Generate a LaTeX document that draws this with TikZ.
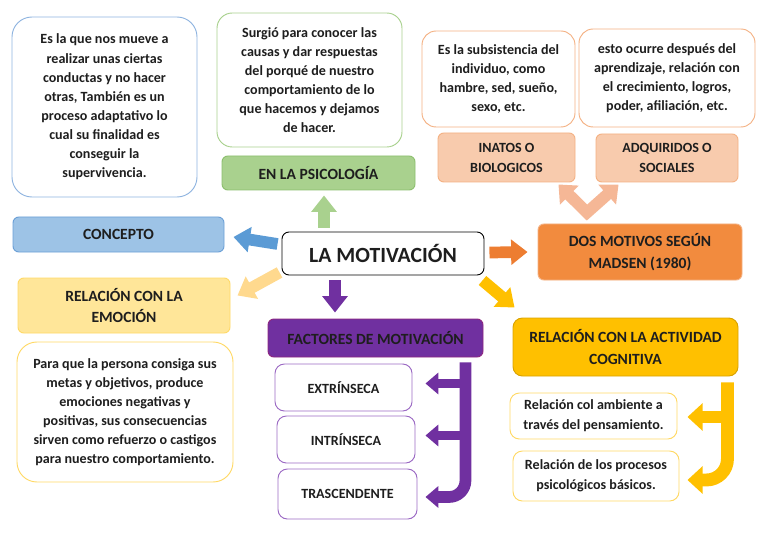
\documentclass[tikz,border=0pt]{standalone}
\usepackage{fontspec}
\setmainfont{Carlito}
\usetikzlibrary{arrows.meta, positioning, calc}

\definecolor{conBlue}{HTML}{8FB4E0}
\definecolor{conFill}{HTML}{9DC3E6}
\definecolor{conDraw}{HTML}{6A9FD6}
\definecolor{arrBlue}{HTML}{5B9BD5}
\definecolor{psiGreen}{HTML}{A9D18E}
\definecolor{psiDraw}{HTML}{8CBF6E}
\definecolor{peach}{HTML}{F4B183}
\definecolor{peachFill}{HTML}{F8CBAD}
\definecolor{vArr}{HTML}{F5B796}
\definecolor{dosFill}{HTML}{F28B3E}
\definecolor{arrOrange}{HTML}{ED7D31}
\definecolor{emoFill}{HTML}{FFE699}
\definecolor{emoDraw}{HTML}{FFD966}
\definecolor{arrCream}{HTML}{FFD98E}
\definecolor{gold}{HTML}{FFC000}
\definecolor{goldDraw}{HTML}{D9A300}
\definecolor{facPurple}{HTML}{7030A0}
\definecolor{facLight}{HTML}{9C6BC4}
\definecolor{txt}{HTML}{1E1E1E}

\begin{document}
\begin{tikzpicture}[
    x=0.03cm, y=-0.03cm,
    wh/.style 2 args={minimum width=#1*0.03cm, minimum height=#2*0.03cm},
    note/.style={rectangle, draw, line width=0.8pt, fill=white, align=center, inner sep=0pt,
        text=txt, font=\fontsize{12}{16.3}\selectfont\bfseries},
    head/.style={rectangle, draw, line width=0.8pt, rounded corners=5pt, align=center, inner sep=0pt,
        text=txt, font=\fontsize{13.3}{18.5}\selectfont\bfseries},
    small/.style={head, font=\fontsize{12}{17}\selectfont\bfseries},
    block/.style={line width=10pt, -{Triangle[width=21pt,length=14pt]}},
    brace/.style={line width=#1, rounded corners=14pt}
]
    \useasboundingbox (0,0) rectangle (768,543);

    % centre
    \node[head, wh={202}{43}, fill=white, draw=black, rounded corners=6pt,
        font=\fontsize{18.5}{22}\selectfont\bfseries] (mot) at (383,253.5) {LA MOTIVACIÓN};

    % concepto
    \node[note, wh={185}{180}, draw=conBlue, rounded corners=17pt] (conTxt) at (104.5,107)
        {Es la que nos mueve a\\ realizar unas ciertas\\ conductas y no hacer\\ otras, También es un\\
         proceso adaptativo lo\\ cual su finalidad es\\ conseguir la\\ supervivencia.};
    \node[head, wh={211}{35}, fill=conFill, draw=conDraw] (concepto) at (118.5,234.5) {CONCEPTO};

    % psicologia
    \node[note, wh={185}{134}, draw=psiGreen, rounded corners=13pt] (psiTxt) at (309.5,80)
        {Surgió para conocer las\\ causas y dar respuestas\\ del porqué de nuestro\\
         comportamiento de lo\\ que hacemos y dejamos\\ de hacer.};
    \node[head, wh={193}{34}, fill=psiGreen, draw=psiDraw] (psi) at (318.5,173) {EN LA PSICOLOGÍA};

    % dos motivos
    \node[note, wh={153}{96}, draw=peach, rounded corners=12pt] (inaTxt) at (498.5,79)
        {Es la subsistencia del\\ individuo, como\\ hambre, sed, sueño,\\ sexo, etc.};
    \node[note, wh={176}{98}, draw=peach, rounded corners=12pt] (adqTxt) at (667,78)
        {esto ocurre después del\\ aprendizaje, relación con\\ el crecimiento, logros,\\ poder, afiliación, etc.};
    \node[small, wh={137}{49}, fill=peachFill, draw=peach] (ina) at (506.5,157.5) {INATOS O\\ BIOLOGICOS};
    \node[small, wh={142}{48}, fill=peachFill, draw=peach] (adq) at (667,158) {ADQUIRIDOS O\\ SOCIALES};
    \node[head, wh={204}{56}, fill=dosFill, draw=peach] (dos) at (640,252) {DOS MOTIVOS SEGÚN\\ MADSEN (1980)};

    % emocion
    \node[head, wh={212}{55}, fill=emoFill, draw=emoDraw] (emo) at (124,305.5) {RELACIÓN CON LA\\ EMOCIÓN};
    \node[note, wh={216}{140}, draw=emoDraw, rounded corners=17pt] (emoTxt) at (125,412)
        {Para que la persona consiga sus\\ metas y objetivos, produce\\ emociones negativas y\\
         positivas, sus consecuencias\\ sirven como refuerzo o castigos\\ para nuestro comportamiento.};

    % factores
    \node[head, wh={215}{38}, fill=facPurple, draw=facPurple!80!red] (fac) at (375.5,338) {FACTORES DE MOTIVACIÓN};
    \node[small, wh={137}{47}, fill=white, draw=facLight, rounded corners=8pt] (ext) at (343.5,387.5) {EXTRÍNSECA};
    \node[small, wh={138}{47}, fill=white, draw=facLight, rounded corners=8pt] (intr) at (346,439.5) {INTRÍNSECA};
    \node[small, wh={139}{50}, fill=white, draw=facLight, rounded corners=8pt] (tras) at (347.5,494) {TRASCENDENTE};

    % actividad cognitiva
    \node[head, wh={225}{58}, fill=gold, draw=goldDraw, rounded corners=8pt] (cog) at (625.5,347)
        {RELACIÓN CON LA ACTIVIDAD\\ COGNITIVA};
    \node[small, wh={167}{46}, fill=white, draw=emoDraw, rounded corners=8pt] (amb) at (593.5,416)
        {Relación col ambiente a\\ través del pensamiento.};
    \node[small, wh={166}{50}, fill=white, draw=emoDraw, rounded corners=8pt] (proc) at (596,476)
        {Relación de los procesos\\ psicológicos básicos.};

    % block arrows out of the centre
    \draw[block, psiGreen] ($(mot.north)+(-59,-4)$) -- ($(psi.south)+(5.5,5)$);
    \draw[block, arrBlue] ($(mot.west)+(-4,-9.5)$) -- ($(concepto.east)+(9,2.5)$);
    \draw[block, arrCream] ($(mot.south west)+(-2,-3)$) -- ($(emo.east)+(7,-10)$);
    \draw[block, facPurple] ($(mot.south)+(-48,5)$) -- ($(fac.north)+(-40.5,-6)$);
    \draw[block, arrOrange] ($(mot.east)+(5,-1)$) -- ($(dos.west)+(-10,0)$);
    \draw[block, gold] ($(mot.south east)+(-2,5)$) -- ($(cog.north west)+(2,-10)$);

    % V arrow up to the two kinds
    \draw[vArr, line width=10pt, miter limit=4, {Triangle[width=22pt,length=13pt]}-{Triangle[width=22pt,length=13pt]}]
        ($(ina.south east)+(-17,2)$) -- ($(dos.north)+(-53,-11)$) -- ($(adq.south west)+(23,2)$);

    % purple bracket
    \coordinate (facBar) at ($(fac.south east)+(-18,5)$);
    \coordinate (extTip) at ($(ext.east)+(13,-4)$);
    \coordinate (intrTip) at ($(intr.east)+(10,-4)$);
    \coordinate (trasTip) at ($(tras.east)+(8,3)$);
    \draw[brace=10pt, facPurple, -{Triangle[width=18pt,length=11pt]}] (facBar) |- (trasTip);
    \draw[facPurple, line width=8.5pt, -{Triangle[width=18pt,length=11pt]}] (facBar |- extTip) -- (extTip);
    \draw[facPurple, line width=8.5pt, -{Triangle[width=18pt,length=11pt]}] (facBar |- intrTip) -- (intrTip);

    % gold bracket
    \coordinate (cogBar) at ($(cog.south east)+(-11,6)$);
    \coordinate (ambTip) at ($(amb.east)+(10,1)$);
    \coordinate (procTip) at ($(proc.east)+(8,4)$);
    \draw[brace=11pt, gold, rounded corners=18pt, -{Triangle[width=23pt,length=13pt]}] (cogBar) |- (procTip);
    \draw[gold, line width=10pt, -{Triangle[width=23pt,length=13pt]}] (cogBar |- ambTip) -- (ambTip);
\end{tikzpicture}
\end{document}
